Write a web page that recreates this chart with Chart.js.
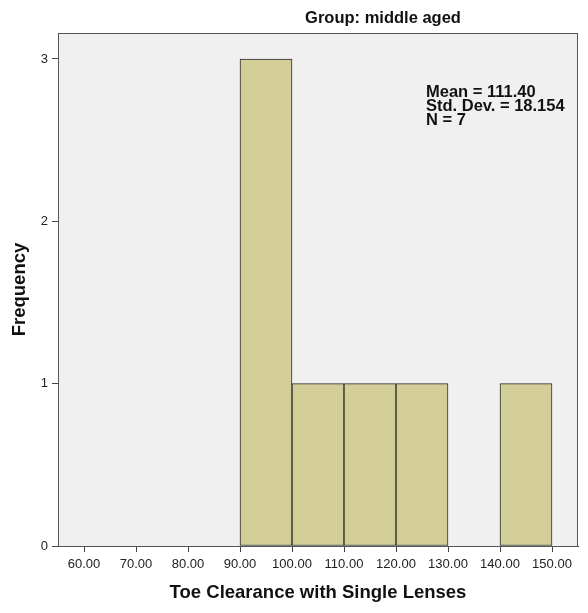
<!DOCTYPE html>
<html>
<head>
<meta charset="utf-8">
<title>Group: middle aged</title>
<script src="https://cdn.jsdelivr.net/npm/chart.js@4.4.1/dist/chart.umd.min.js"></script>
<style>
  html, body { margin: 0; padding: 0; background: #fff; }
  #wrap { width: 588px; height: 613px; }
</style>
</head>
<body>
<div id="wrap"><canvas id="hist" width="588" height="613"></canvas></div>
<script>
// Histogram data (bin lower edges, width 10)
const binStarts = [90, 100, 110, 120, 130, 140];
const frequencies = [3, 1, 1, 1, 0, 1];
const xTicks = [60, 70, 80, 90, 100, 110, 120, 130, 140, 150];
const yTicks = [0, 1, 2, 3];
const statLines = ['Mean = 111.40', 'Std. Dev. = 18.154', 'N = 7'];
const groupTitle = 'Group: middle aged';

const BIN_W = 10;
const FONT = 'Arial, "Liberation Sans", sans-serif';

// bars centred on each bin, empty bins left out
const points = binStarts
  .map((s, i) => ({ x: s + BIN_W / 2, y: frequencies[i] }))
  .filter(p => p.y > 0);

// plot panel fill + frame, group heading, summary stats
const panel = {
  id: 'panel',
  beforeDraw(chart) {
    const { ctx, chartArea: a } = chart;
    ctx.save();
    ctx.fillStyle = '#f0f0f0';
    ctx.fillRect(a.left, a.top, a.right - a.left, a.bottom - a.top);
    ctx.restore();
  },
  afterDraw(chart) {
    const { ctx, chartArea: a } = chart;
    ctx.save();
    ctx.strokeStyle = '#555';
    ctx.lineWidth = 1;
    ctx.strokeRect(a.left + 0.5, a.top + 0.5, a.right - a.left - 1, a.bottom - a.top);

    ctx.fillStyle = '#111';
    ctx.font = 'bold 16.5px ' + FONT;
    ctx.textAlign = 'center';
    ctx.textBaseline = 'alphabetic';
    ctx.fillText(groupTitle, 383, 23);

    ctx.font = 'bold 16.5px ' + FONT;
    ctx.textAlign = 'left';
    statLines.forEach((t, i) => ctx.fillText(t, 426, 97 + i * 14));
    ctx.restore();
  }
};

new Chart(document.getElementById('hist'), {
  type: 'bar',
  data: {
    datasets: [{
      data: points,
      backgroundColor: '#d3ce98',
      borderColor: '#2a2a2a',
      borderWidth: 1,
      borderSkipped: false,
      barPercentage: 1,
      categoryPercentage: 1
    }]
  },
  options: {
    responsive: false,
    devicePixelRatio: 1,
    animation: false,
    layout: { padding: { top: 33, right: 10, left: 0, bottom: 0 } },
    plugins: { legend: { display: false }, tooltip: { enabled: false }, title: { display: false } },
    scales: {
      x: {
        type: 'linear',
        offset: false,
        min: 55,
        max: 155,
        afterBuildTicks: s => { s.ticks = xTicks.map(v => ({ value: v })); },
        afterFit: s => { s.height = 67; },
        ticks: {
          callback: v => v.toFixed(2),
          font: { family: FONT, size: 13 },
          color: '#222',
          padding: 5,
          maxRotation: 0,
          autoSkip: false
        },
        grid: { offset: false, drawOnChartArea: false, drawTicks: true, tickLength: 6, color: '#444' },
        border: { display: true, color: '#444' },
        title: {
          display: true,
          text: 'Toe Clearance with Single Lenses',
          font: { family: FONT, size: 18.5, weight: 'bold', lineHeight: 1 },
          color: '#111',
          padding: { top: 0, bottom: 11 }
        }
      },
      y: {
        min: 0,
        max: 3.16,
        afterBuildTicks: s => { s.ticks = yTicks.map(v => ({ value: v })); },
        afterFit: s => { s.width = 58; },
        ticks: {
          font: { family: FONT, size: 13 },
          color: '#222',
          padding: 4
        },
        grid: { drawOnChartArea: false, drawTicks: true, tickLength: 6, color: '#444' },
        border: { display: true, color: '#444' },
        title: {
          display: true,
          text: 'Frequency',
          font: { family: FONT, size: 18.5, weight: 'bold', lineHeight: 1 },
          color: '#111',
          padding: { top: 11, bottom: 0 }
        }
      }
    }
  },
  plugins: [panel]
});
</script>
</body>
</html>
